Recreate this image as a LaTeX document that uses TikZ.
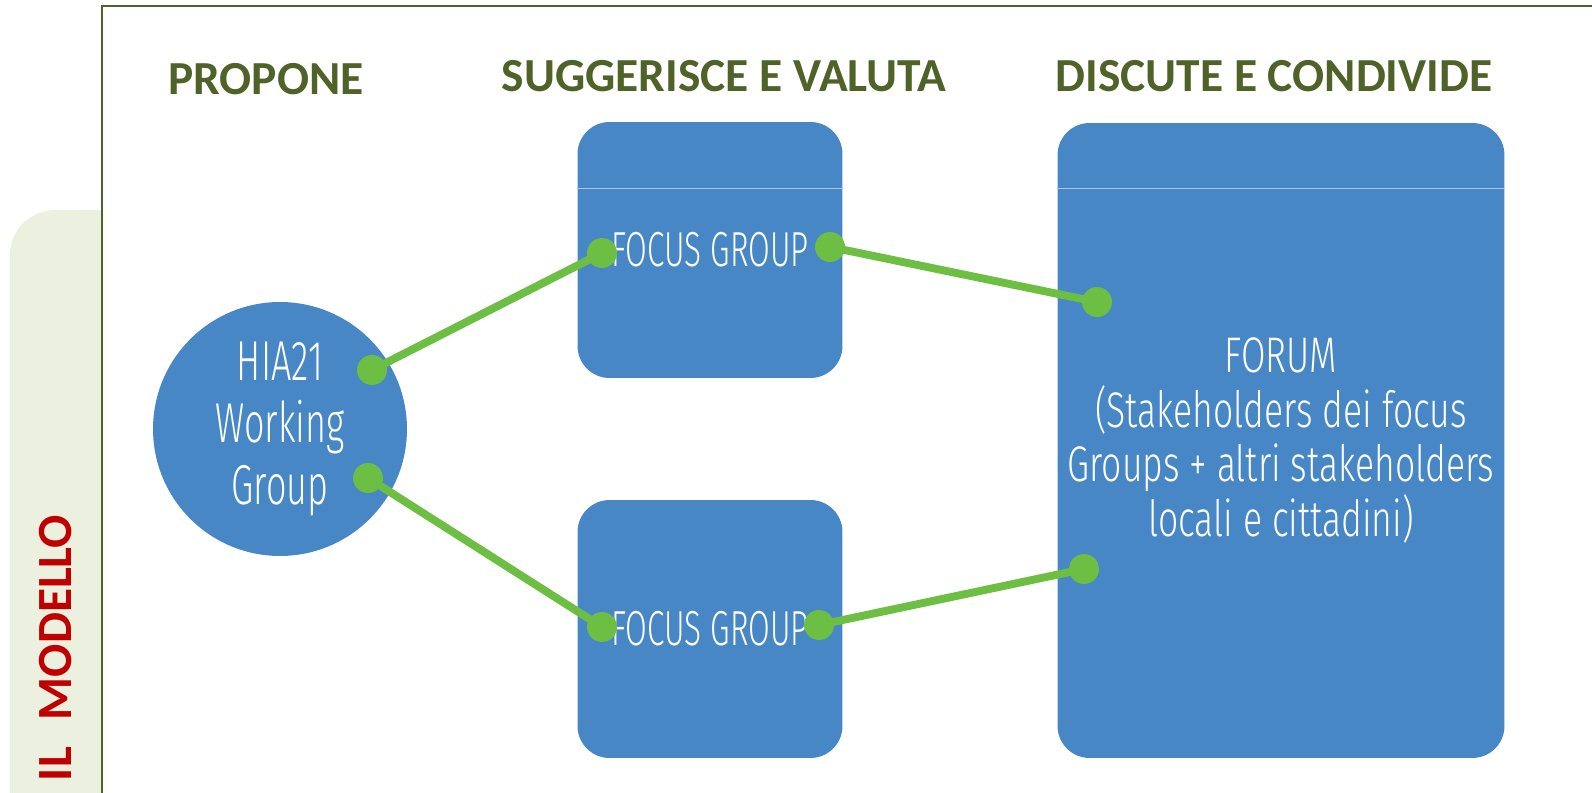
\documentclass[tikz,border=0pt]{standalone}
\usepackage{fontspec}
\setmainfont{Carlito}
\newfontfamily\agency[FakeStretch=0.64]{Fira Sans Light}
\newfontfamily\agencywide[FakeStretch=0.71]{Fira Sans Light}
\definecolor{headc}{HTML}{4F6228}
\definecolor{modelc}{HTML}{C00000}
\definecolor{panelc}{HTML}{EBF1DE}
\definecolor{boxc}{HTML}{4887C6}
\definecolor{sepc}{HTML}{A9C8E8}
\definecolor{linkc}{HTML}{6CBF43}
\tikzset{
  head/.style={font=\bfseries\fontsize{27pt}{30pt}\selectfont, text=headc, inner sep=0pt},
  sidelabel/.style={font=\bfseries\fontsize{28pt}{30pt}\selectfont, text=modelc, inner sep=0pt, rotate=90},
  wgroup/.style={circle, fill=boxc, minimum size=5.08cm, inner sep=0pt, text=white, align=center,
    font=\agency\fontsize{32pt}{35.5pt}\selectfont},
  fbox/.style={rectangle, rounded corners=0.64cm, fill=boxc, inner sep=0pt, text=white, align=center,
    font=\agency\fontsize{28pt}{31pt}\selectfont},
  sepline/.style={draw=sepc, line width=0.6pt},
  link/.style={draw=linkc, line width=4.5pt},
  dot/.style={fill=linkc}}

\begin{document}
\begin{tikzpicture}[x=0.02cm,y=-0.02cm]
\useasboundingbox (0,0) rectangle (1592,793);
% side panel and frame
\fill[panelc] (10,793) -- (10,255) arc[start angle=180, end angle=90, radius=0.9cm] -- (101,210) -- (101,793) -- cycle;
\draw[headc, line width=1.4pt] (102,793) -- (102,6) -- (1592,6);
\node[sidelabel] (modello) at (56,648) {IL\hspace{0.55em}MODELLO};
% headings
\node[head] (propone) at (266,79) {PROPONE};
\node[head] (suggerisce) at (724,76) {SUGGERISCE E VALUTA};
\node[head] (discute) at (1274,76) {DISCUTE E CONDIVIDE};
% blocks
\node[wgroup] (wg) at (280,429) {HIA21\\Working\\Group};
\node[fbox, minimum width=5.3cm, minimum height=5.12cm] (fgtop) at (710,250) {FOCUS GROUP};
\node[fbox, minimum width=5.3cm, minimum height=5.16cm] (fgbot) at (710,629) {FOCUS GROUP};
\node[fbox, minimum width=8.94cm, minimum height=12.7cm, font=\agencywide\fontsize{28.5pt}{31pt}\selectfont] (forum) at (1281,440.5)
  {FORUM\\(Stakeholders dei focus\\Groups + altri stakeholders\\locali e cittadini)};
\draw[sepline] ([yshift=-1.34cm]fgtop.north west) -- ([yshift=-1.34cm]fgtop.north east);
\draw[sepline] ([yshift=-1.32cm]forum.north west) -- ([yshift=-1.32cm]forum.north east);
% connectors
\coordinate (wg-up) at (372,370);
\coordinate (wg-dn) at (368,478);
\coordinate (fgtop-in) at (602,253);
\coordinate (fgtop-out) at (830,247);
\coordinate (fgbot-in) at (602,627);
\coordinate (fgbot-out) at (819,625);
\coordinate (forum-up) at (1097,302);
\coordinate (forum-dn) at (1084,569);
\foreach \a/\b in {wg-up/fgtop-in, fgtop-out/forum-up, wg-dn/fgbot-in, fgbot-out/forum-dn}
  \draw[link] (\a) -- (\b);
\foreach \p in {wg-up, wg-dn, fgtop-in, fgtop-out, fgbot-in, fgbot-out, forum-up, forum-dn}
  \fill[dot] (\p) circle[radius=0.3cm];
\end{tikzpicture}
\end{document}
